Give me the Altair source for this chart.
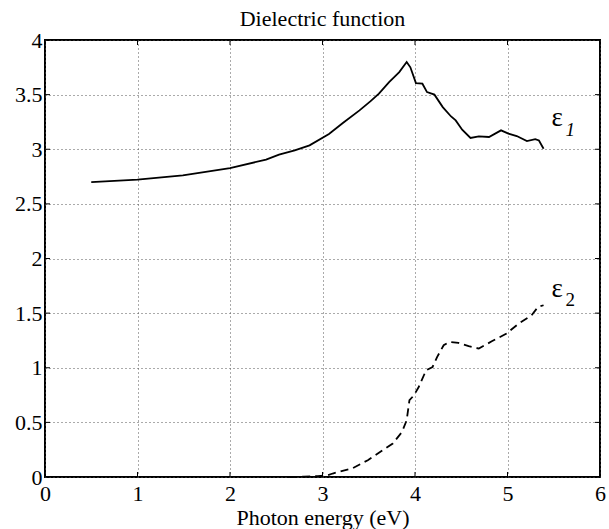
import altair as alt
import pandas as pd

# ---- data ----
x_eps1 = [0.50, 1.00, 1.49, 2.00, 2.39, 2.53, 2.70, 2.86, 3.07, 3.22, 3.40, 3.52, 3.61, 3.72, 3.83, 3.91, 3.95,
          4.01, 4.08, 4.13, 4.21, 4.30, 4.39, 4.44, 4.51, 4.60, 4.69, 4.80, 4.93, 5.01, 5.10, 5.21, 5.30, 5.34, 5.39]
eps1 = [2.700, 2.722, 2.761, 2.828, 2.905, 2.951, 2.990, 3.036, 3.140, 3.240, 3.356, 3.440, 3.509, 3.615, 3.706,
        3.798, 3.750, 3.606, 3.600, 3.523, 3.500, 3.386, 3.300, 3.264, 3.179, 3.103, 3.118, 3.112, 3.173, 3.143,
        3.121, 3.075, 3.093, 3.080, 3.005]

x_eps2 = [2.64, 2.80, 2.95, 3.05, 3.11, 3.32, 3.49, 3.61, 3.76, 3.86, 3.91, 3.94, 3.99, 4.04, 4.12, 4.19, 4.24,
          4.31, 4.37, 4.47, 4.58, 4.69, 4.83, 4.99, 5.12, 5.26, 5.33, 5.39]
eps2 = [0.000, 0.003, 0.008, 0.015, 0.032, 0.078, 0.154, 0.221, 0.307, 0.413, 0.520, 0.703, 0.749, 0.824, 0.977,
        1.007, 1.099, 1.206, 1.236, 1.227, 1.197, 1.176, 1.242, 1.313, 1.404, 1.480, 1.556, 1.572]

x_ticks = [0, 1, 2, 3, 4, 5, 6]
y_ticks = [0, 0.5, 1, 1.5, 2, 2.5, 3, 3.5, 4]

chart_title = "Dielectric function"
x_title = "Photon energy (eV)"
series_symbol = "ε"
sub_eps1 = "1"
sub_eps2 = "2"

FONT = "Liberation Serif, Times New Roman, serif"
FS = 22
W, H = 555, 437
TICK = 5

df1 = pd.DataFrame({"x": x_eps1, "y": eps1})
df2 = pd.DataFrame({"x": x_eps2, "y": eps2})
dfx = pd.DataFrame({"x": x_ticks})
dfy = pd.DataFrame({"y": y_ticks})

xs = alt.Scale(domain=[0, 6], nice=False, zero=False)
ys = alt.Scale(domain=[0, 4], nice=False, zero=False)

x_axis = alt.Axis(values=x_ticks, title=x_title, grid=True, gridDash=[1, 3], gridColor="#555555",
                  gridWidth=1, ticks=False, tickSize=0, domain=False, labelFont=FONT, labelFontSize=FS,
                  labelColor="black", labelPadding=6, labelFlush=False, titleFont=FONT, titleFontSize=FS,
                  titleFontWeight="normal", titleColor="black", titleBaseline="alphabetic", titleY=47)
y_axis = alt.Axis(values=y_ticks, title=None, format=".1~f", grid=True, gridDash=[1, 3], gridColor="#555555",
                  gridWidth=1, ticks=False, tickSize=0, domain=False, labelFont=FONT, labelFontSize=FS,
                  labelColor="black", labelPadding=3, labelFlush=False)

X = alt.X("x:Q", scale=xs, axis=x_axis)
Y = alt.Y("y:Q", scale=ys, axis=y_axis)

line1 = alt.Chart(df1).mark_line(color="black", strokeWidth=1.8).encode(x=X, y=Y)
line2 = alt.Chart(df2).mark_line(color="black", strokeWidth=1.8, strokeDash=[8, 5]).encode(x=X, y=Y)


def label(df, text, dx, dy, size, style):
    last = df.iloc[[-1]].assign(t=text)
    return alt.Chart(last).mark_text(align="left", baseline="alphabetic", dx=dx, dy=dy, font=FONT,
                                     fontSize=size, fontStyle=style, color="black").encode(
        x=X, y=Y, text="t:N")


lab1a = label(df1, series_symbol, 8, -23, 27, "normal")
lab1b = label(df1, sub_eps1, 22, -13, 19, "italic")
lab2a = label(df2, series_symbol, 8, -8, 27, "normal")
lab2b = label(df2, sub_eps2, 22, 1, 19, "normal")

tick_bottom = alt.Chart(dfx).mark_rule(color="black", strokeWidth=1).encode(
    x=X, y=alt.value(H), y2=alt.value(H - TICK))
tick_top = alt.Chart(dfx).mark_rule(color="black", strokeWidth=1).encode(
    x=X, y=alt.value(0), y2=alt.value(TICK))
tick_left = alt.Chart(dfy).mark_rule(color="black", strokeWidth=1).encode(
    y=Y, x=alt.value(0), x2=alt.value(TICK))
tick_right = alt.Chart(dfy).mark_rule(color="black", strokeWidth=1).encode(
    y=Y, x=alt.value(W), x2=alt.value(W - TICK))

chart = alt.layer(
    line1, line2, lab1a, lab1b, lab2a, lab2b, tick_bottom, tick_top, tick_left, tick_right
).properties(
    width=W,
    height=H,
    title=alt.TitleParams(chart_title, font=FONT, fontSize=FS, fontWeight="normal", color="black",
                          baseline="alphabetic", offset=17, dy=36, frame="group", anchor="middle"),
    autosize=alt.AutoSizeParams(type="none"),
    padding={"left": 45, "top": 40, "right": 9, "bottom": 52},
    background="white",
).configure_view(
    stroke="black", strokeWidth=2
)

chart.save("out.html", embed_options={"renderer": "svg", "actions": False})
